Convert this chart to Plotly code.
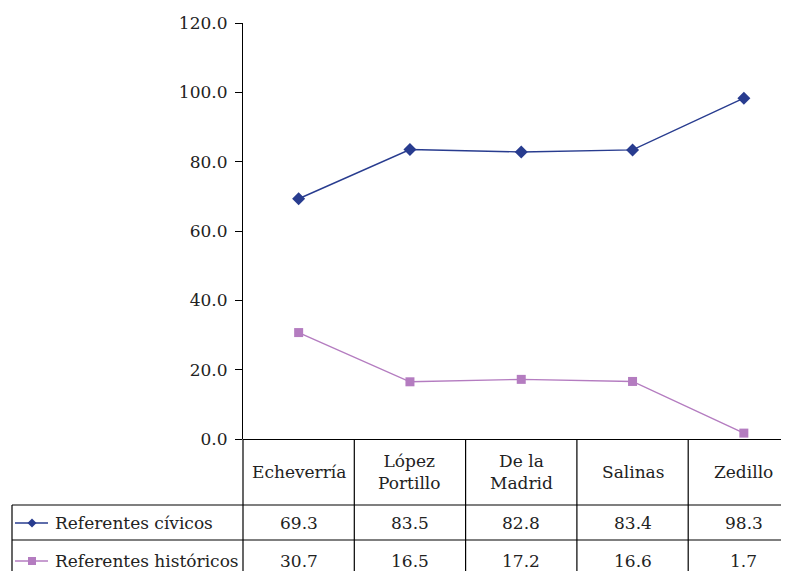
import plotly.graph_objects as go

categories = ["Echeverría", "López<br>Portillo", "De la<br>Madrid", "Salinas", "Zedillo"]
civicos = [69.3, 83.5, 82.8, 83.4, 98.3]
historicos = [30.7, 16.5, 17.2, 16.6, 1.7]
series_names = ["Referentes cívicos", "Referentes históricos"]
y_ticks = [0, 20, 40, 60, 80, 100, 120]

OFF = 8                          # page body margin
RIGHT = 781
W, H = RIGHT - OFF, 571 - OFF
L, T, B = 243 - OFF, 23 - OFF, 439 - OFF   # plot area in figure pixels
PW, PH = W - L, B - T
COL = 111.3                      # column width in px

BLUE = "#283C8F"
PINK = "#B47CC0"
FONT = "DejaVu Serif"
FS = 17

def px(x):   # reference pixel x -> paper x
    return (x - OFF - L) / PW

def py(y):   # reference pixel y -> paper y
    return (B - (y - OFF)) / PH

xs = list(range(len(categories)))

fig = go.Figure()
fig.add_trace(go.Scatter(x=xs, y=civicos, mode="lines+markers", name=series_names[0],
                         line=dict(color=BLUE, width=1.4),
                         marker=dict(symbol="diamond", size=10, color=BLUE)))
fig.add_trace(go.Scatter(x=xs, y=historicos, mode="lines+markers", name=series_names[1],
                         line=dict(color=PINK, width=1.4),
                         marker=dict(symbol="square", size=9, color=PINK)))

shapes = []
lc = dict(color="black", width=1.2)
for yy in (505, 540):
    shapes.append(dict(type="line", xref="paper", yref="paper", x0=px(12), x1=1.0,
                       y0=py(yy), y1=py(yy), line=lc))
shapes.append(dict(type="line", xref="paper", yref="paper", x0=px(12), x1=px(12),
                   y0=py(505), y1=py(575), line=lc))
shapes.append(dict(type="line", xref="paper", yref="paper", x0=0, x1=0,
                   y0=0, y1=py(575), line=lc))
for i in range(len(categories) - 1):
    shapes.append(dict(type="line", xref="x", yref="paper", x0=i + 0.5, x1=i + 0.5,
                       y0=0, y1=py(575), line=lc))
row1_y, row2_y = 523, 561
shapes.append(dict(type="line", xref="paper", yref="paper", x0=px(15), x1=px(48),
                   y0=py(row1_y), y1=py(row1_y), line=dict(color=BLUE, width=1.4)))
d = 4.5
shapes.append(dict(type="path", xref="paper", yref="paper",
                   path=f"M {px(32)},{py(row1_y - d)} L {px(32 + d)},{py(row1_y)} L {px(32)},{py(row1_y + d)} L {px(32 - d)},{py(row1_y)} Z",
                   fillcolor=BLUE, line=dict(color=BLUE, width=0)))
shapes.append(dict(type="line", xref="paper", yref="paper", x0=px(15), x1=px(48),
                   y0=py(row2_y), y1=py(row2_y), line=dict(color=PINK, width=1.4)))
s = 4
shapes.append(dict(type="rect", xref="paper", yref="paper",
                   x0=px(32 - s), x1=px(32 + s), y0=py(row2_y + s), y1=py(row2_y - s),
                   fillcolor=PINK, line=dict(color=PINK, width=0)))

annotations = []
tf = dict(family=FONT, size=FS, color="#222222")
for i, c in enumerate(categories):
    annotations.append(dict(x=i, y=py(472), xref="x", yref="paper", text=c,
                            showarrow=False, font=tf, xanchor="center", yanchor="middle"))
    annotations.append(dict(x=i, y=py(row1_y), xref="x", yref="paper", text=f"{civicos[i]:.1f}",
                            showarrow=False, font=tf, xanchor="center", yanchor="middle"))
    annotations.append(dict(x=i, y=py(row2_y), xref="x", yref="paper", text=f"{historicos[i]:.1f}",
                            showarrow=False, font=tf, xanchor="center", yanchor="middle"))
annotations.append(dict(x=px(53), y=py(row1_y), xref="paper", yref="paper", text=series_names[0],
                        showarrow=False, font=tf, xanchor="left", yanchor="middle"))
annotations.append(dict(x=px(53), y=py(row2_y), xref="paper", yref="paper", text=series_names[1],
                        showarrow=False, font=tf, xanchor="left", yanchor="middle"))

fig.update_layout(
    width=W, height=H,
    margin=dict(l=L, r=0, t=T, b=H - B, pad=0),
    paper_bgcolor="white", plot_bgcolor="white",
    showlegend=False,
    font=dict(family=FONT, size=FS, color="#222222"),
    shapes=shapes, annotations=annotations,
    xaxis=dict(range=[-0.5, -0.5 + PW / COL], showticklabels=False, showgrid=False,
               zeroline=False, showline=False, ticks="", fixedrange=True),
    yaxis=dict(range=[0, 120], tickvals=y_ticks, tickformat=".1f", ticks="outside",
               ticklen=7, tickcolor="black", tickwidth=1.2, showline=True,
               linecolor="black", linewidth=1.2, showgrid=False, zeroline=True,
               zerolinecolor="black", zerolinewidth=1.2, ticklabelstandoff=4,
               tickfont=dict(family=FONT, size=FS, color="#222222")),
)

fig.write_html("out.html")
